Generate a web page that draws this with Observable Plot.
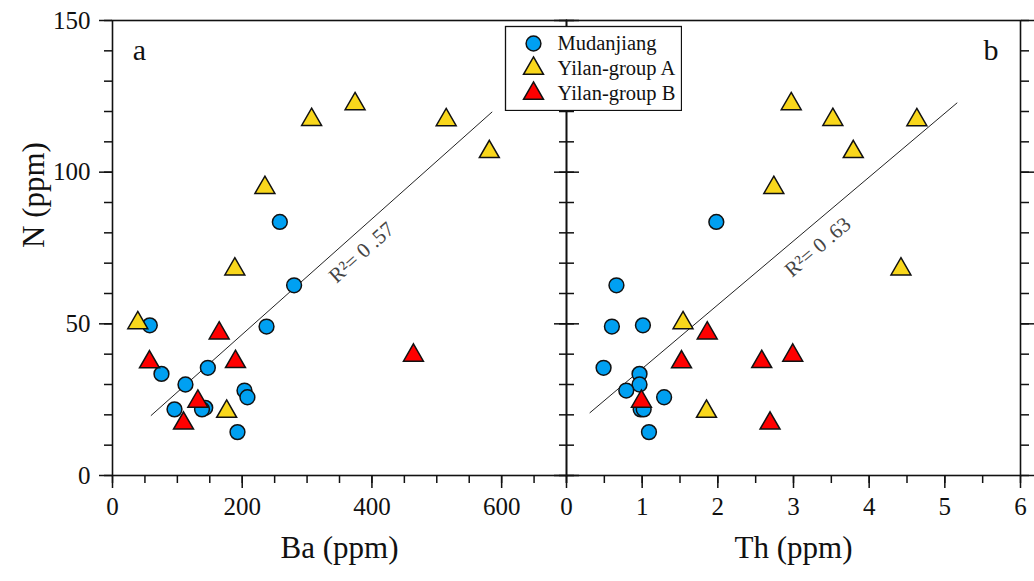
<!DOCTYPE html>
<html>
<head>
<meta charset="utf-8">
<script src="https://cdn.jsdelivr.net/npm/d3@7"></script>
<script src="https://cdn.jsdelivr.net/npm/@observablehq/plot@0.6"></script>
<style>
  body { margin: 0; background: white; }
  #figure { position: relative; width: 1034px; height: 581px; }
  #figure > div { position: absolute; }
  #figure svg, #figure svg text { font-family: "Liberation Serif", "Times New Roman", serif !important; }
</style>
</head>
<body>
<div id="figure">
  <div id="panel-a" style="left:0;top:0"></div>
  <div id="panel-b" style="left:546px;top:0"></div>
  <div id="legend" style="left:504px;top:25px"></div>
</div>
<script>
// Sample groups
const groups = ["Mudanjiang", "Yilan-group A", "Yilan-group B"];
const groupColors = ["#00a0f2", "#f9d71c", "#ff0000"];
const groupSymbols = ["circle", "triangle", "triangle"];

// Mudanjiang (ppm)
const mudBa = [258, 280, 57.5, 237.5, 147, 75.5, 112.5, 203.5, 208, 143, 138, 95.6, 192.7];
const mudTh = [1.98, 0.66, 1.01, 0.60, 0.49, 0.965, 0.965, 0.79, 1.29, 1.0, 0.98, 1.02, 1.09];
const mudN  = [83.6, 62.7, 49.5, 49.1, 35.5, 33.5, 30.0, 28.0, 25.8, 22.3, 21.8, 21.8, 14.3];

// Yilan-group A (ppm)
const yaBa = [374, 307, 514.5, 581, 235, 188.6, 39, 176];
const yaTh = [2.97, 3.52, 4.63, 3.79, 2.74, 4.42, 1.54, 1.85];
const yaN  = [122.5, 117.3, 117.2, 106.7, 94.9, 68.0, 50.3, 21.1];

// Yilan-group B (ppm)
const ybBa = [164.5, 464, 57, 189.6, 131.6, 109.5];
const ybTh = [1.86, 2.99, 1.52, 2.58, 0.99, 2.69];
const ybN  = [46.9, 39.6, 37.4, 37.5, 24.4, 17.2];

// Regression lines (end points) and their R² values
const fitBa  = [59.6, 585];
const fitBaN = [19.8, 119.8];
const fitTh  = [0.31, 5.16];
const fitThN = [20.7, 122.8];
const r2Ba = "R²= 0 .57";
const r2Th = "R²= 0 .63";

// Axis ticks
const nTicks  = [0, 50, 100, 150];
const nMinor  = d3.range(0, 151, 10);
const baTicks = [0, 200, 400, 600];
const baMinor = d3.range(0, 701, 50);
const thTicks = [0, 1, 2, 3, 4, 5, 6];
const thMinor = d3.range(0, 6.01, 0.5);

const samples = (group, ba, th, n) => n.map((v, i) => ({group, Ba: ba[i], Th: th[i], N: v}));
const rows = [
  ...samples(groups[0], mudBa, mudTh, mudN),
  ...samples(groups[1], yaBa, yaTh, yaN),
  ...samples(groups[2], ybBa, ybTh, ybN)
];
const fitA = fitBa.map((x, i) => ({x, y: fitBaN[i]}));
const fitB = fitTh.map((x, i) => ({x, y: fitThN[i]}));

const ink = "#111";
const font = "Liberation Serif, Times New Roman, serif";
const tickOnly = {label: null, color: ink, strokeWidth: 1.5, fill: "none"};
const labelled = {label: null, color: ink, strokeWidth: 1.5, fontSize: 25, fontFamily: font, tickFormat: d => String(d)};
const colorScale = {domain: groups, range: groupColors};
const symbolScale = {domain: groups, range: groupSymbols};
const dotStyle = {r: 7.4, stroke: ink, strokeWidth: 1.5};

function panel({width, marginLeft, xKey, xDomain, xTicks, xMinor, fit, r2, r2At, r2Rotate, letter, letterAt, xTitle, yAxis, leftIn}) {
  const marks = [
    Plot.frame({stroke: ink, strokeWidth: 1.6}),
    // left side ticks
    Plot.axisY({ticks: nMinor, anchor: "left", tickSize: leftIn ? -8 : 8, ...tickOnly}),
    yAxis
      ? Plot.axisY({ticks: nTicks, anchor: "left", tickSize: 13, tickPadding: 9, ...labelled})
      : Plot.axisY({ticks: nTicks, anchor: "left", tickSize: -13, ...tickOnly}),
    // right side ticks
    Plot.axisY({ticks: nMinor, anchor: "right", tickSize: leftIn ? 8 : -8, ...tickOnly}),
    Plot.axisY({ticks: nTicks, anchor: "right", tickSize: leftIn ? 13 : -13, ...tickOnly}),
    // bottom ticks
    Plot.axisX({ticks: xMinor, anchor: "bottom", tickSize: 8, ...tickOnly}),
    Plot.axisX({ticks: xTicks, anchor: "bottom", tickSize: 13, tickPadding: 9, ...labelled}),
    // regression line
    Plot.line(fit, {x: "x", y: "y", stroke: "#222", strokeWidth: 1}),
    // samples
    Plot.dot(rows, {x: xKey, y: "N", fill: "group", symbol: "group", ...dotStyle}),
    Plot.text([{x: r2At[0], y: r2At[1], t: r2}], {x: "x", y: "y", text: "t", rotate: r2Rotate, fontSize: 21, fontFamily: font, fill: "#444", textAnchor: "middle"}),
    Plot.text([{x: letterAt[0], y: letterAt[1], t: letter}], {x: "x", y: "y", text: "t", fontSize: 30, fontFamily: font, fill: ink}),
    Plot.text([xTitle], {frameAnchor: "bottom", dy: 82, text: d => d, fontSize: 31, fontFamily: font, fill: ink})
  ];
  if (yAxis) marks.push(Plot.text(["N (ppm)"], {frameAnchor: "left", dx: -78, rotate: -90, text: d => d, fontSize: 31, fontFamily: font, fill: ink}));
  return Plot.plot({
    width, height: 581,
    marginLeft, marginRight: 14, marginTop: 20, marginBottom: 106,
    style: {background: "transparent", fontFamily: font, overflow: "visible"},
    x: {domain: xDomain},
    y: {domain: [0, 150]},
    color: colorScale,
    symbol: symbolScale,
    marks
  });
}

document.getElementById("panel-a").append(panel({
  width: 580, marginLeft: 112, xKey: "Ba", xDomain: [0, 700],
  xTicks: baTicks, xMinor: baMinor, fit: fitA,
  r2: r2Ba, r2At: [384, 73.5], r2Rotate: -42,
  letter: "a", letterAt: [41.6, 140], xTitle: "Ba (ppm)", yAxis: true, leftIn: false
}));

document.getElementById("panel-b").append(panel({
  width: 488, marginLeft: 20, xKey: "Th", xDomain: [0, 6],
  xTicks: thTicks, xMinor: thMinor, fit: fitB,
  r2: r2Th, r2At: [3.32, 75.3], r2Rotate: -40.5,
  letter: "b", letterAt: [5.61, 140], xTitle: "Th (ppm)", yAxis: false, leftIn: true
}));

// Legend box
document.getElementById("legend").append(Plot.plot({
  width: 178, height: 86, margin: 1,
  style: {background: "transparent", fontFamily: font},
  x: {domain: [0, 1], axis: null},
  y: {type: "point", domain: groups, range: [17, 68], padding: 0, axis: null},
  color: colorScale,
  symbol: symbolScale,
  marks: [
    Plot.frame({fill: "white", stroke: ink, strokeWidth: 1.3}),
    Plot.dot(groups, {frameAnchor: "left", dx: 28, y: d => d, fill: d => d, symbol: d => d, ...dotStyle}),
    Plot.text(groups, {frameAnchor: "left", dx: 52, y: d => d, text: d => d, textAnchor: "start", fontSize: 20.5, fontFamily: font, fill: ink})
  ]
}));
</script>
</body>
</html>
